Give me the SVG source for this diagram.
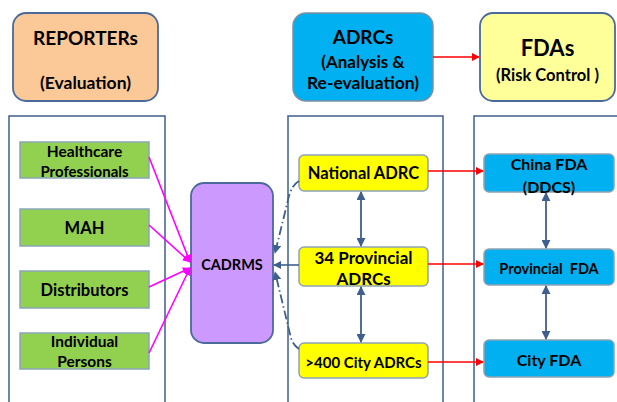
<svg xmlns="http://www.w3.org/2000/svg" width="617" height="402" viewBox="0 0 617 402">
<defs>
<style>
text{font-family:Lato,"Open Sans","Liberation Sans",sans-serif;font-weight:bold;fill:#000;text-anchor:middle;dominant-baseline:central}
.panel{fill:none;stroke:#3f5f8f;stroke-width:1.5}
.head{stroke:#4a6a9a;stroke-width:1.8}
.green{fill:#92D050;stroke:#8aa6b8;stroke-width:1.5}
.yellow{fill:#FFFF00;stroke:#8ea2b4;stroke-width:1.5}
.blue{fill:#00B0F0;stroke:#8ea2b4;stroke-width:1.5}
.mag{stroke:#FF00FF;stroke-width:1.6;fill:none;marker-end:url(#am)}
.red{stroke:#FF0000;stroke-width:1.6;fill:none;marker-end:url(#ar)}
.dbl{stroke:#3f5f8f;stroke-width:1.8;fill:none;marker-start:url(#ab);marker-end:url(#ab)}
.dd{stroke:#3f5f8f;stroke-width:1.8;fill:none;stroke-dasharray:9 3 1.5 3;marker-end:url(#ab)}
.sol{stroke:#3f5f8f;stroke-width:1.6;fill:none;marker-end:url(#ab)}
</style>
<marker id="am" viewBox="0 0 10 10" refX="9" refY="5" markerWidth="5" markerHeight="5" orient="auto-start-reverse" markerUnits="strokeWidth"><path d="M0,0L10,5L0,10z" fill="#FF00FF"/></marker>
<marker id="ar" viewBox="0 0 10 10" refX="9" refY="5" markerWidth="5" markerHeight="5" orient="auto-start-reverse" markerUnits="strokeWidth"><path d="M0,0L10,5L0,10z" fill="#FF0000"/></marker>
<marker id="ab" viewBox="0 0 10 10" refX="9" refY="5" markerWidth="5" markerHeight="5" orient="auto-start-reverse" markerUnits="strokeWidth"><path d="M0,0L10,5L0,10z" fill="#3f5f8f"/></marker>
</defs>
<rect width="617" height="402" fill="#fff"/>
<g id="panels">
<path class="panel" d="M9,402V116H165V402"/>
<path class="panel" d="M288,402V116H443V402"/>
<path class="panel" d="M474,402V116H617"/>
</g>
<g id="reporters"><rect class="head" x="13" y="13" width="145" height="88" rx="13" fill="#FBC898"/><text x="85.5" y="37" font-size="19">REPORTERs</text><text x="85.5" y="82" font-size="17.5">(Evaluation)</text></g>
<g id="adrcs"><rect x="293" y="13" width="140" height="88" rx="13" fill="#00B0F0" stroke="#7f8f9f" stroke-width="1.5"/><text x="363" y="36" font-size="19">ADRCs</text><text x="363" y="61" font-size="17">(Analysis &amp;</text><text x="363" y="82" font-size="17.5">Re-evaluation)</text></g>
<g id="fdas"><rect class="head" x="480" y="13" width="135" height="88" rx="13" fill="#FFFF99"/><text x="547.5" y="47" font-size="22">FDAs</text><text x="547.5" y="75" font-size="16.5">(Risk Control )</text></g>
<g id="healthcare"><rect class="green" x="20" y="142" width="129" height="36"/><text x="84.5" y="151" font-size="15.5">Healthcare</text><text x="84.5" y="171" font-size="15">Professionals</text></g>
<g id="mah"><rect class="green" x="20" y="209" width="129" height="37"/><text x="84.5" y="228" font-size="16.5">MAH</text></g>
<g id="distributors"><rect class="green" x="20" y="271" width="129" height="37"/><text x="84.5" y="290" font-size="16.5">Distributors</text></g>
<g id="individual"><rect class="green" x="20" y="333" width="129" height="36"/><text x="84.5" y="341" font-size="15.5">Individual</text><text x="84.5" y="361" font-size="15.5">Persons</text></g>
<g id="cadrms"><rect class="head" x="191" y="183" width="82" height="160" rx="13" fill="#CC99FF"/><text x="232" y="264" font-size="14.5">CADRMS</text></g>
<g id="national-adrc"><rect class="yellow" x="299" y="155" width="129" height="36" rx="5"/><text x="363.5" y="173" font-size="16.5">National ADRC</text></g>
<g id="provincial-adrcs"><rect class="yellow" x="299" y="247" width="129" height="39" rx="5"/><text x="363.5" y="257" font-size="17">34 Provincial</text><text x="363.5" y="278" font-size="17">ADRCs</text></g>
<g id="city-adrcs"><rect class="yellow" x="299" y="343" width="129" height="35" rx="5"/><text x="363.5" y="362" font-size="15">&gt;400 City ADRCs</text></g>
<g id="china-fda"><rect class="blue" x="484" y="154" width="130" height="38" rx="5"/><text x="549" y="163" font-size="16">China FDA</text><text x="549" y="186" font-size="16">(DDCS)</text></g>
<g id="provincial-fda"><rect class="blue" x="484" y="249" width="130" height="36" rx="5"/><text x="549" y="268" font-size="14.5" xml:space="preserve">Provincial  FDA</text></g>
<g id="city-fda"><rect class="blue" x="484" y="340" width="130" height="37" rx="5"/><text x="549" y="359" font-size="16">City FDA</text></g>
<g id="connectors">
<line class="red" x1="433" y1="57" x2="479" y2="57"/>
<line class="mag" x1="149" y1="157" x2="190" y2="262"/>
<line class="mag" x1="149" y1="225" x2="190" y2="262"/>
<line class="mag" x1="149" y1="287" x2="190" y2="268"/>
<line class="mag" x1="149" y1="353" x2="190" y2="268"/>
<line class="red" x1="428" y1="171" x2="483" y2="171"/>
<line class="red" x1="428" y1="264" x2="483" y2="264"/>
<line class="red" x1="428" y1="362" x2="483" y2="362"/>
<line class="dbl" x1="361" y1="192" x2="361" y2="246"/>
<line class="dbl" x1="361" y1="287" x2="361" y2="342"/>
<line class="dbl" x1="546" y1="193" x2="546" y2="248"/>
<line class="dbl" x1="546" y1="286" x2="546" y2="339"/>
<line class="sol" x1="299" y1="265" x2="274" y2="265"/>
<path class="dd" d="M299,181 Q292,185 289,196 L275,253"/>
<path class="dd" d="M299,349 Q293,345 291,338 L275,272"/>
</g>
</svg>
